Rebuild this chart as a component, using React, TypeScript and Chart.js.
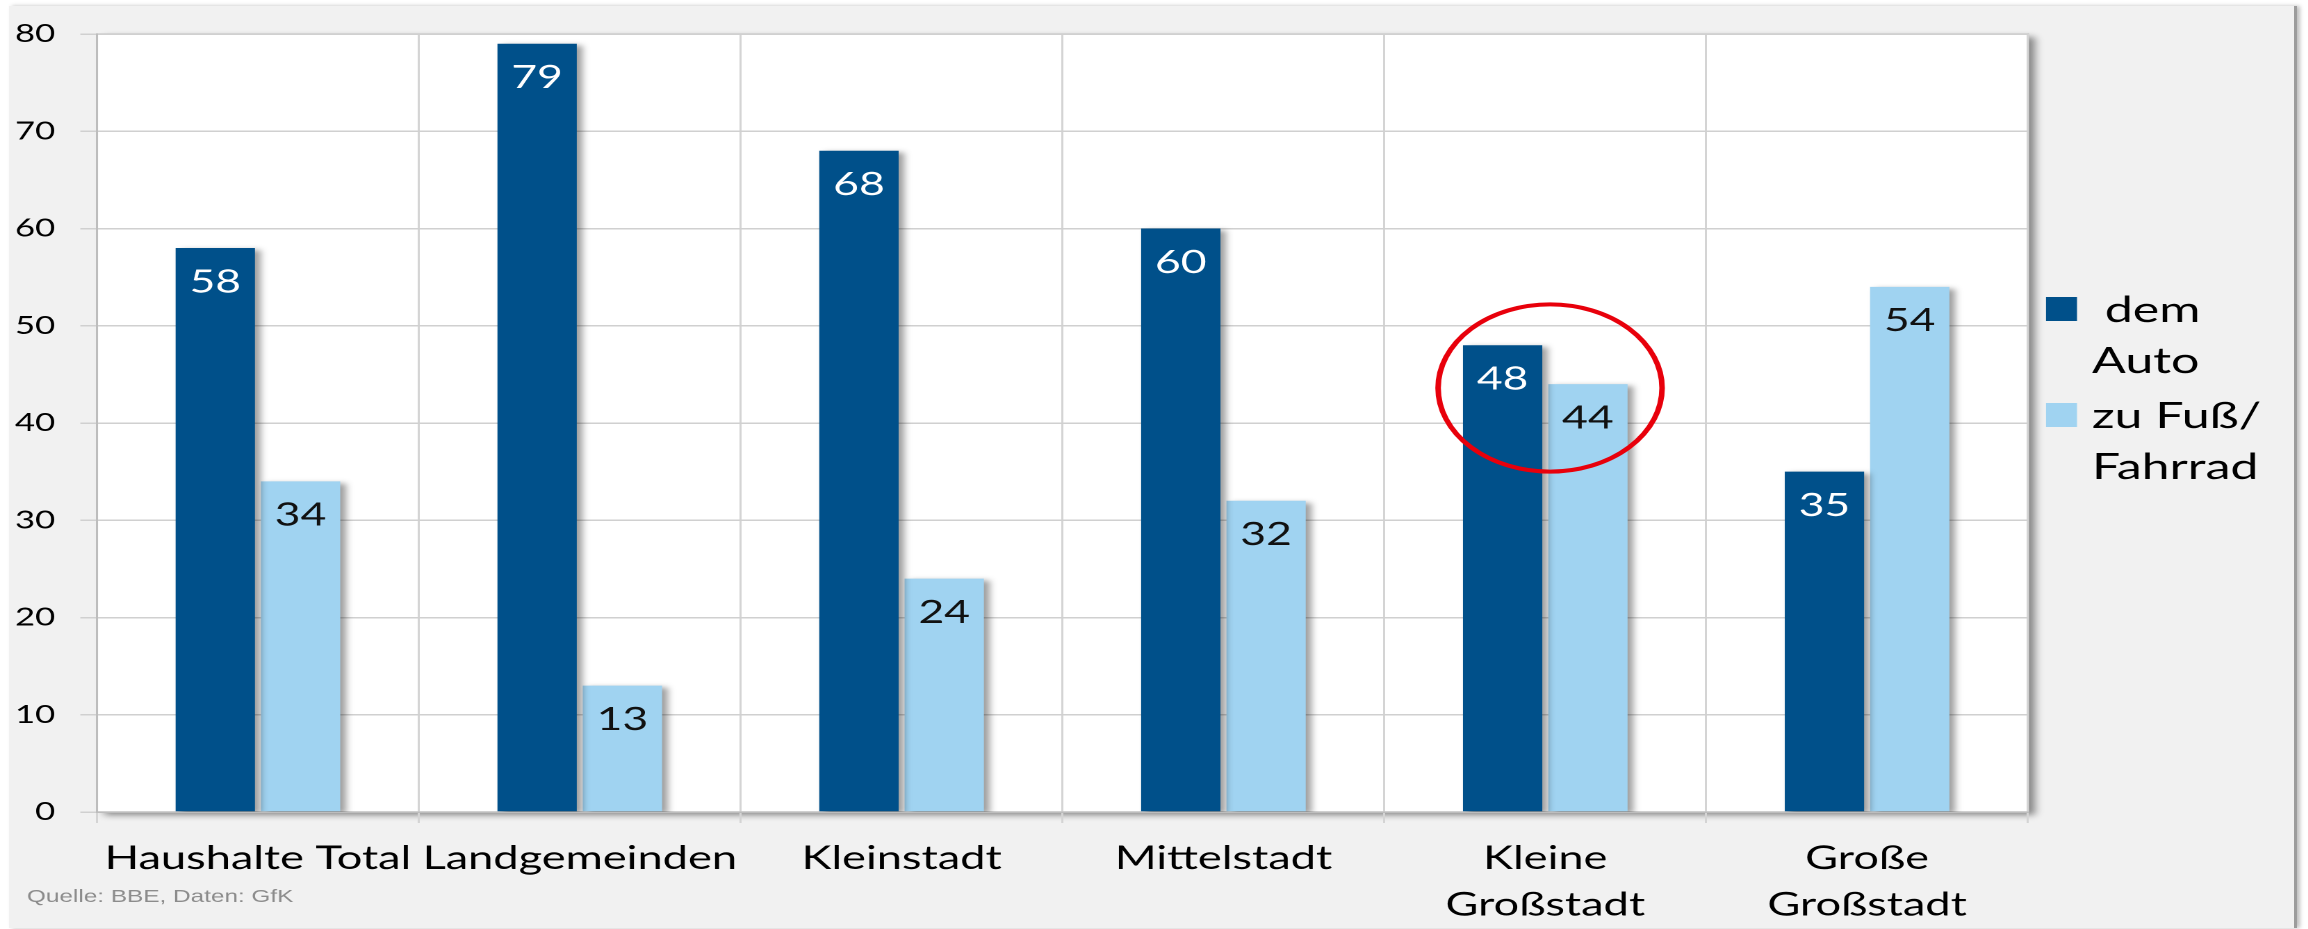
import { useEffect, useRef } from "react";
import { Chart, registerables } from "chart.js";

Chart.register(...registerables);

// ---- data ----
const CATEGORIES: (string | string[])[] = [
  "Haushalte Total",
  "Landgemeinden",
  "Kleinstadt",
  "Mittelstadt",
  ["Kleine", "Großstadt"],
  ["Große", "Großstadt"],
];
const SERIES_AUTO = [58, 79, 68, 60, 48, 35];
const SERIES_FUSS = [34, 13, 24, 32, 44, 54];
const SERIES_NAMES = ["dem Auto", "zu Fuß/Fahrrad"];
const LEGEND_LINES = [[" dem", "Auto"], ["zu Fuß/", "Fahrrad"]];
const Y_MIN = 0;
const Y_MAX = 80;
const Y_STEP = 10;
const SOURCE_NOTE = "Quelle: BBE, Daten: GfK";
const HIGHLIGHT_INDEX = 4;
const HIGHLIGHT_VALUE = 43.6;

// ---- style ----
const DARK = "#00508a";
const LIGHT = "#a0d3f1";
const FONT = "Lato";
const S = 1.39; // horizontal stretch of the original picture
const FULL_W = 2300;
const H = 929;
const CW = Math.round(FULL_W / S);
const PLOT_LEFT = 97 / S;
const PLOT_RIGHT = 2028 / S;
const PLOT_TOP = 34;
const PLOT_BOTTOM = 812;

const plotBg = {
  id: "plotBg",
  beforeDraw(chart: any) {
    const { ctx, chartArea: a } = chart;
    ctx.save();
    ctx.shadowColor = "rgba(0,0,0,0.45)";
    ctx.shadowBlur = 12;
    ctx.shadowOffsetX = 10;
    ctx.shadowOffsetY = 6;
    ctx.fillStyle = "#ffffff";
    ctx.fillRect(a.left, a.top, a.width, a.height);
    ctx.restore();
    ctx.save();
    ctx.strokeStyle = "#c8c8c8";
    ctx.lineWidth = 1.5;
    ctx.strokeRect(a.left, a.top, a.width, a.height);
    ctx.restore();
  },
};

const barShadow = {
  id: "barShadow",
  beforeDatasetsDraw(chart: any) {
    const ctx = chart.ctx;
    ctx.save();
    ctx.shadowColor = "rgba(0,0,0,0.38)";
    ctx.shadowBlur = 10;
    ctx.shadowOffsetX = 8;
    ctx.shadowOffsetY = 4;
  },
  afterDatasetsDraw(chart: any) {
    chart.ctx.restore();
  },
};

const overlay = {
  id: "overlay",
  afterDraw(chart: any) {
    const { ctx, chartArea: a, scales } = chart;
    // value labels
    ctx.save();
    ctx.font = `32px ${FONT}`;
    ctx.textAlign = "center";
    ctx.textBaseline = "middle";
    chart.data.datasets.forEach((ds: any, di: number) => {
      const meta = chart.getDatasetMeta(di);
      ctx.fillStyle = di === 0 ? "#ffffff" : "#111111";
      meta.data.forEach((bar: any, i: number) => {
        ctx.fillText(String(ds.data[i]), bar.x, bar.y + 34);
      });
    });
    ctx.restore();

    // legend
    ctx.save();
    ctx.font = `36px ${FONT}`;
    ctx.textAlign = "left";
    ctx.textBaseline = "alphabetic";
    ctx.fillStyle = "#000";
    const lx = a.right + 18 / S;
    const tx = a.right + 64 / S;
    const boxTops = [297, 403];
    chart.data.datasets.forEach((ds: any, di: number) => {
      const top = boxTops[di];
      ctx.fillStyle = ds.backgroundColor;
      ctx.fillRect(lx, top, 31 / S, 24);
      ctx.fillStyle = "#000";
      LEGEND_LINES[di].forEach((line, li) => {
        ctx.fillText(line, tx, top + 25 + li * 51);
      });
    });
    ctx.restore();

    // highlight ellipse
    const xs = scales.x;
    const ys = scales.y;
    const catW = (a.right - a.left) / CATEGORIES.length;
    const cx = xs.getPixelForValue(HIGHLIGHT_INDEX) + catW * 0.015;
    const cy = ys.getPixelForValue(HIGHLIGHT_VALUE);
    const rx = catW * 0.348;
    const ry = Math.abs(ys.getPixelForValue(0) - ys.getPixelForValue(8.6));
    ctx.save();
    ctx.strokeStyle = "#e8000b";
    ctx.lineWidth = 4;
    ctx.beginPath();
    ctx.ellipse(cx, cy, rx, ry, 0, 0, Math.PI * 2);
    ctx.stroke();
    ctx.restore();

    // source note
    ctx.save();
    ctx.font = `17.5px "Liberation Sans"`;
    ctx.fillStyle = "#8c8c8c";
    ctx.textAlign = "left";
    ctx.textBaseline = "alphabetic";
    ctx.fillText(SOURCE_NOTE, 27 / S, 902);
    ctx.restore();
  },
};

export default function App() {
  const ref = useRef<HTMLCanvasElement>(null);
  useEffect(() => {
    Chart.defaults.font.family = FONT;
    const chart = new Chart(ref.current!, {
      type: "bar",
      data: {
        labels: CATEGORIES,
        datasets: [
          {
            label: SERIES_NAMES[0],
            data: SERIES_AUTO,
            backgroundColor: DARK,
            categoryPercentage: 0.53,
            barPercentage: 0.93,
          },
          {
            label: SERIES_NAMES[1],
            data: SERIES_FUSS,
            backgroundColor: LIGHT,
            categoryPercentage: 0.53,
            barPercentage: 0.93,
          },
        ],
      },
      options: {
        responsive: false,
        animation: false,
        devicePixelRatio: 2,
        layout: {
          padding: { left: 0, top: PLOT_TOP, right: CW - PLOT_RIGHT, bottom: 0 },
        },
        plugins: {
          legend: { display: false },
          tooltip: { enabled: false },
        },
        scales: {
          x: {
            grid: {
              offset: true,
              color: "#d4d4d4",
              lineWidth: 1.5,
              tickLength: 11,
            },
            border: { color: "#bdbdbd", width: 1.5 },
            ticks: {
              autoSkip: false,
              maxRotation: 0,
              minRotation: 0,
              padding: 12,
              color: "#000",
              font: { family: FONT, size: 32.5, lineHeight: 1.44 },
            },
            afterFit(scale: any) {
              scale.height = H - PLOT_BOTTOM;
            },
          },
          y: {
            min: Y_MIN,
            max: Y_MAX,
            ticks: {
              stepSize: Y_STEP,
              padding: 18,
              color: "#000",
              font: { family: FONT, size: 25 },
            },
            grid: { color: "#d0d0d0", lineWidth: 1.5, tickLength: 12 },
            border: { color: "#bdbdbd", width: 1.5 },
            afterFit(scale: any) {
              scale.width = PLOT_LEFT;
            },
          },
        },
      },
      plugins: [plotBg, barShadow, overlay],
    });
    return () => chart.destroy();
  }, []);

  return (
    <div
      style={{
        position: "fixed",
        left: 0,
        top: 0,
        width: 2308,
        height: 929,
        background: "#ffffff",
        overflow: "hidden",
      }}
    >
      <div
        style={{
          position: "absolute",
          left: 9,
          top: 6,
          width: 2285,
          height: 922,
          background: "#f1f1f1",
          borderRight: "3px solid #9c9c9c",
          boxShadow: "3px 0 4px rgba(0,0,0,0.25)",
        }}
      />
      <div
        style={{
          position: "absolute",
          left: 0,
          top: 0,
          width: CW,
          height: H,
          transform: `scaleX(${S})`,
          transformOrigin: "0 0",
        }}
      >
        <canvas ref={ref} width={CW} height={H} style={{ display: "block" }} />
      </div>
    </div>
  );
}
